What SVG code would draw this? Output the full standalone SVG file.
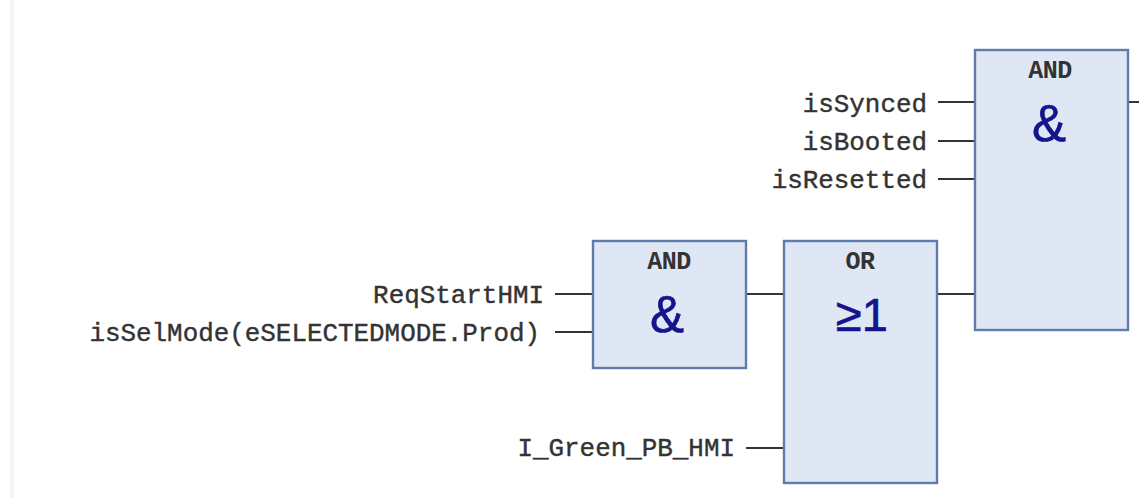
<svg xmlns="http://www.w3.org/2000/svg" width="1139" height="498" viewBox="0 0 1139 498">
<style>
.box{fill:#dfe7f5;stroke:#5f7da8;stroke-width:2.4}
.w{stroke:#333;stroke-width:2;fill:none}
.l{font-family:"Liberation Mono",monospace;font-size:25.9px;fill:#333;text-anchor:end;stroke:#333;stroke-width:.4}
.t{font-family:"Liberation Mono",monospace;font-size:25px;font-weight:bold;fill:#333;text-anchor:middle;letter-spacing:-.5px}
.s{font-family:"Liberation Sans",sans-serif;font-size:51px;fill:#14148c;text-anchor:middle;stroke:#14148c;stroke-width:.7}
.g{font-size:47px}
</style>
<rect width="1139" height="498" fill="#fff"/>
<rect x="10" y="0" width="4" height="498" fill="#f5f5f5"/>
<g id="connectors">
<path class="w" d="M938 102H975M938 141H975M938 179H975M1128 102H1139M555 294H593M555 332H593M746 294H784M746 448H784M937 294H975"/>
</g>
<g id="and-top"><rect class="box" x="975" y="50" width="153" height="280"/><text class="t" x="1050" y="78">AND</text><text class="s" x="1049" y="141">&amp;</text></g>
<g id="and-left"><rect class="box" x="593" y="241" width="153" height="127"/><text class="t" x="669" y="269">AND</text><text class="s" x="667" y="332">&amp;</text></g>
<g id="or"><rect class="box" x="784" y="241" width="153" height="242"/><text class="t" x="860" y="269">OR</text><text class="s g" x="862" y="331">≥1</text></g>
<g id="labels">
<text class="l" x="927" y="112">isSynced</text>
<text class="l" x="927" y="150">isBooted</text>
<text class="l" x="927" y="188">isResetted</text>
<text class="l" x="544" y="303">ReqStartHMI</text>
<text class="l" x="540" y="341">isSelMode(eSELECTEDMODE.Prod)</text>
<text class="l" x="735" y="456">I_Green_PB_HMI</text>
</g>
</svg>
